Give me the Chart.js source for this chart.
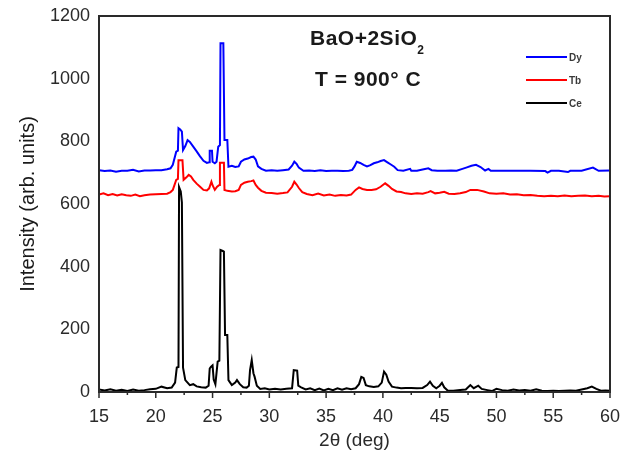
<!DOCTYPE html>
<html>
<head>
<meta charset="utf-8">
<title>BaO+2SiO2 XRD</title>
<script src="https://cdn.jsdelivr.net/npm/chart.js@4.4.1/dist/chart.umd.min.js"></script>
<style>
  html, body { margin: 0; padding: 0; background: #ffffff; }
  #wrap { width: 621px; height: 456px; }
</style>
</head>
<body>
<div id="wrap"><canvas id="xrdChart" width="621" height="456"></canvas></div>
<script>
// ---- data ----
// 2-theta positions (deg) and intensities (arb. units) for each sample

const dyAngle = [15.0, 15.5, 16.0, 16.5, 17.0, 17.5, 18.0, 18.5, 19.0, 19.5, 20.0, 20.5, 21.0, 21.3, 21.5, 21.8, 21.95,
  22.0, 22.15, 22.3, 22.4, 22.6, 22.8, 23.0, 23.3, 23.6, 23.9, 24.2, 24.5, 24.7, 24.75, 24.95, 25.0, 25.2, 25.35,
  25.5, 25.65, 25.7, 25.95, 26.05, 26.3, 26.4, 26.7, 27.0, 27.3, 27.5, 27.8, 28.1, 28.4, 28.6, 28.8, 29.0, 29.3,
  29.7, 30.2, 30.7, 31.2, 31.7, 32.0, 32.2, 32.4, 32.6, 33.0, 33.5, 34.0, 34.5, 35.0, 35.5, 36.0, 36.5, 37.0, 37.3,
  37.5, 37.7, 38.0, 38.3, 38.6, 38.9, 39.2, 39.5, 39.8, 40.1, 40.4, 40.7, 41.0, 41.3, 41.8, 42.4, 42.5, 43.0, 43.5,
  44.0, 44.3, 44.8, 45.5, 46.0, 46.5, 47.0, 47.4, 47.8, 48.2, 48.6, 49.0, 49.3, 49.5, 50.0, 51.0, 52.0, 53.0, 54.3,
  54.5, 54.8, 55.5, 56.3, 56.5, 57.5, 58.5, 59.0, 60.0];
const dyCounts = [708, 705, 707, 703, 706, 706, 709, 704, 707, 707, 708, 708, 711, 714, 725, 767, 770,
  842, 838, 831, 772, 785, 804, 798, 783, 768, 752, 738, 731, 733, 770, 770, 735, 730, 735,
  783, 788, 1113, 1113, 804, 804, 719, 722, 718, 720, 735, 742, 745, 750, 751, 742, 720, 712,
  706, 708, 706, 708, 710, 722, 735, 728, 716, 706, 707, 705, 708, 705, 706, 706, 705, 706, 709,
  720, 735, 731, 725, 720, 724, 730, 733, 737, 740, 733, 726, 719, 708, 706, 712, 706, 706, 710,
  714, 708, 706, 706, 707, 706, 712, 717, 722, 725, 718, 707, 712, 706, 706, 706, 706, 706, 705,
  700, 706, 706, 702, 706, 706, 716, 706, 707];

const tbAngle = [15.0, 15.4, 15.8, 16.2, 16.6, 17.0, 17.4, 17.8, 18.2, 18.6, 19.0, 19.5, 20.0, 20.5, 21.0, 21.3,
  21.5, 21.8, 21.95, 22.0, 22.35, 22.45, 22.7, 22.9, 23.1, 23.3, 23.6, 23.9, 24.2, 24.5, 24.7, 24.9, 25.0, 25.2,
  25.4, 25.6, 25.65, 26.0, 26.05, 26.3, 26.7, 27.0, 27.3, 27.5, 27.8, 28.1, 28.4, 28.6, 28.8, 29.0, 29.3, 29.7,
  30.2, 30.7, 31.2, 31.6, 32.0, 32.2, 32.4, 32.6, 32.9, 33.3, 33.8, 34.3, 34.8, 35.3, 35.8, 36.3, 36.8, 37.2,
  37.6, 37.9, 38.2, 38.6, 39.0, 39.4, 39.8, 40.2, 40.5, 40.8, 41.2, 41.6, 42.0, 42.5, 43.0, 43.5, 44.0, 44.2,
  44.6, 45.0, 45.4, 45.8, 46.3, 46.8, 47.3, 47.7, 48.3, 48.9, 49.4, 50.0, 50.6, 51.2, 51.8, 52.4, 53.0, 53.6,
  54.2, 54.8, 55.4, 56.0, 56.6, 57.2, 57.8, 58.4, 59.0, 59.5, 60.0];
const tbCounts = [630, 634, 628, 632, 627, 631, 628, 626, 630, 625, 628, 630, 631, 632, 633, 638,
  645, 677, 680, 740, 740, 677, 685, 693, 688, 677, 665, 655, 645, 643, 650, 671, 660, 645,
  655, 661, 732, 732, 645, 642, 640, 641, 645, 661, 668, 671, 673, 675, 661, 652, 642, 636,
  635, 633, 635, 637, 655, 671, 662, 651, 638, 632, 628, 633, 627, 630, 626, 629, 627, 630,
  645, 653, 648, 645, 645, 647, 655, 666, 658, 648, 640, 638, 634, 632, 634, 633, 638, 641,
  634, 636, 639, 633, 632, 634, 638, 645, 645, 640, 634, 633, 634, 630, 631, 628, 629, 626,
  625, 626, 625, 627, 625, 626, 627, 625, 626, 624, 625];

const ceAngle = [15.0, 15.5, 16.0, 16.5, 17.0, 17.5, 18.0, 18.5, 19.0, 19.5, 20.0, 20.5, 21.0, 21.4, 21.7, 21.85,
  22.0, 22.05, 22.2, 22.3, 22.4, 22.6, 23.0, 23.3, 23.6, 24.0, 24.4, 24.65, 24.75, 24.85, 25.0, 25.1, 25.25,
  25.45, 25.6, 25.7, 25.9, 26.0, 26.1, 26.3, 26.4, 26.7, 27.0, 27.15, 27.4, 27.7, 28.0, 28.2, 28.3, 28.45, 28.6,
  28.7, 28.9, 29.2, 29.6, 30.0, 30.5, 31.0, 31.5, 32.0, 32.15, 32.45, 32.55, 32.8, 33.2, 33.6, 34.0, 34.4, 34.8,
  35.2, 35.6, 36.0, 36.4, 36.8, 37.2, 37.6, 37.9, 38.1, 38.3, 38.5, 38.8, 39.2, 39.6, 39.9, 40.1, 40.3, 40.5,
  40.8, 41.2, 41.6, 42.0, 42.5, 43.0, 43.5, 43.9, 44.15, 44.4, 44.7, 45.0, 45.2, 45.4, 45.7, 46.2, 46.8, 47.3,
  47.7, 48.0, 48.4, 48.7, 49.2, 49.6, 50.0, 50.5, 51.0, 51.5, 52.0, 52.5, 53.0, 53.5, 54.0, 54.5, 55.0, 55.5,
  56.0, 56.5, 57.0, 57.5, 58.0, 58.4, 58.8, 59.2, 59.6, 60.0];
const ceCounts = [8, 5, 9, 4, 7, 3, 8, 4, 6, 9, 10, 17, 12, 14, 30, 78,
  80, 654, 640, 605, 78, 38, 22, 25, 18, 15, 14, 20, 75, 80, 85, 40, 25,
  97, 100, 453, 450, 448, 182, 182, 38, 22, 30, 38, 25, 15, 14, 20, 70, 102, 60,
  49, 20, 10, 12, 8, 10, 8, 10, 12, 70, 68, 20, 15, 8, 12, 6, 11, 5,
  10, 6, 12, 7, 12, 9, 12, 25, 48, 45, 22, 18, 16, 18, 30, 65, 55, 33,
  17, 14, 12, 13, 13, 12, 13, 22, 33, 20, 12, 20, 29, 15, 5, 4, 6, 8,
  22, 12, 20, 10, 6, 3, 10, 6, 4, 8, 5, 6, 4, 9, 4, 3, 4, 3,
  4, 5, 4, 8, 12, 17, 10, 4, 5, 4];

const xTicks = [15, 20, 25, 30, 35, 40, 45, 50, 55, 60];
const yTicks = [0, 200, 400, 600, 800, 1000, 1200];

// turn two parallel arrays into {x, y} points for a linear x axis
function toPoints(angles, counts) {
  return angles.map((a, i) => ({ x: a, y: counts[i] }));
}

const FONT = "'Liberation Sans', Arial, sans-serif";

// box, minor ticks, inside legend and sample text
const decorPlugin = {
  id: "decor",
  afterDraw(chart) {
    const ctx = chart.ctx;
    const area = chart.chartArea;
    const xs = chart.scales.x;

    ctx.save();
    // frame round the plot
    ctx.strokeStyle = "#2a2a2a";
    ctx.lineWidth = 2;
    ctx.strokeRect(area.left, area.top, area.right - area.left, area.bottom - area.top);

    // ticks on the bottom axis, long at 5, short in between
    ctx.lineWidth = 1.5;
    for (let v = 15; v <= 60; v += 2.5) {
      const px = xs.getPixelForValue(v);
      const len = v % 5 === 0 ? 6 : 3;
      ctx.beginPath();
      ctx.moveTo(px, area.bottom);
      ctx.lineTo(px, area.bottom + len);
      ctx.stroke();
    }

    // legend inside the top right corner
    ctx.font = "bold 10px " + FONT;
    ctx.textBaseline = "middle";
    ctx.textAlign = "left";
    const legendY = [57, 80, 103];
    chart.data.datasets.forEach((ds, i) => {
      ctx.strokeStyle = ds.borderColor;
      ctx.lineWidth = 2;
      ctx.beginPath();
      ctx.moveTo(526, legendY[i]);
      ctx.lineTo(567, legendY[i]);
      ctx.stroke();
      ctx.fillStyle = "#3a3a3a";
      ctx.fillText(ds.label, 569, legendY[i] + 1);
    });

    // sample name and temperature
    ctx.fillStyle = "#1a1a1a";
    ctx.textBaseline = "alphabetic";
    ctx.font = "bold 21px " + FONT;
    ctx.letterSpacing = "0.5px";
    ctx.fillText("BaO+2SiO", 310, 45);
    const w = ctx.measureText("BaO+2SiO").width;
    ctx.font = "bold 12px " + FONT;
    ctx.fillText("2", 310 + w, 54);
    ctx.font = "bold 21px " + FONT;
    ctx.fillText("T = 900\u00B0 C", 315, 86);
    ctx.restore();
  }
};

const chart = new Chart(document.getElementById("xrdChart"), {
  type: "line",
  data: {
    datasets: [
      { label: "Dy", data: toPoints(dyAngle, dyCounts), borderColor: "#0000ff" },
      { label: "Tb", data: toPoints(tbAngle, tbCounts), borderColor: "#ff0000" },
      { label: "Ce", data: toPoints(ceAngle, ceCounts), borderColor: "#000000" }
    ]
  },
  options: {
    responsive: false,
    devicePixelRatio: 1,
    animation: false,
    layout: { padding: { top: 16, right: 11, left: 0, bottom: 0 } },
    elements: {
      line: { borderWidth: 2, tension: 0, fill: false },
      point: { radius: 0 }
    },
    plugins: {
      legend: { display: false },
      tooltip: { enabled: false }
    },
    scales: {
      x: {
        type: "linear",
        min: 15,
        max: 60,
        afterFit: (scale) => {
          scale.height = 64;
          scale.paddingLeft = 0;
          scale.paddingRight = 0;
        },
        afterBuildTicks: (scale) => { scale.ticks = xTicks.map((v) => ({ value: v })); },
        grid: { display: false, drawTicks: false },
        border: { display: false },
        ticks: { padding: 14, color: "#2a2a2a", font: { family: FONT, size: 18 } },
        title: {
          display: true,
          text: "2\u03B8 (deg)",
          color: "#2a2a2a",
          font: { family: FONT, size: 19 },
          padding: { top: 0, bottom: 4 }
        }
      },
      y: {
        min: 0,
        max: 1200,
        afterFit: (scale) => {
          scale.width = 99;
          scale.paddingTop = 0;
          scale.paddingBottom = 0;
        },
        afterBuildTicks: (scale) => { scale.ticks = yTicks.map((v) => ({ value: v })); },
        grid: { display: false, drawTicks: false },
        border: { display: false },
        ticks: {
          padding: 9,
          color: "#2a2a2a",
          font: { family: FONT, size: 18 },
          callback: (v) => String(v)
        },
        title: {
          display: true,
          text: "Intensity (arb. units)",
          color: "#1a1a1a",
          font: { family: FONT, size: 20 },
          padding: { top: 16, bottom: 0 }
        }
      }
    }
  },
  plugins: [decorPlugin]
});
</script>
</body>
</html>
